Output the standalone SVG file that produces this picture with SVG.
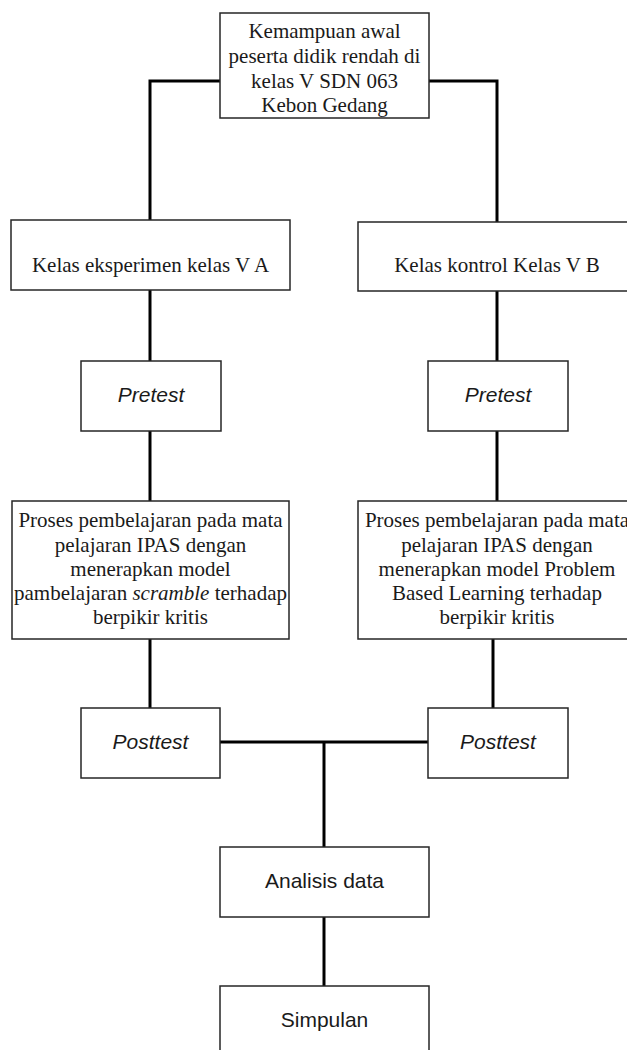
<svg xmlns="http://www.w3.org/2000/svg" width="627" height="1050" viewBox="0 0 627 1050">
<style>
.box{fill:#fff;stroke:#262626;stroke-width:1.5}
.con{fill:none;stroke:#000;stroke-width:3}
.serif{font-family:"Liberation Serif","Times New Roman",serif;font-size:21px;fill:#1a1a1a;text-anchor:middle}
.sans{font-family:"Liberation Sans",Arial,sans-serif;font-size:21px;fill:#1a1a1a;text-anchor:middle}
.it{font-style:italic}
</style>
<rect width="627" height="1050" fill="#fff"/>
<g id="connectors">
<path class="con" d="M220,81 H150 V220"/>
<path class="con" d="M429,81 H497 V222"/>
<path class="con" d="M150,290 V361"/>
<path class="con" d="M150,431 V501"/>
<path class="con" d="M150,639 V708"/>
<path class="con" d="M497,291 V361"/>
<path class="con" d="M497,431 V501"/>
<path class="con" d="M493,639 V708"/>
<path class="con" d="M220,742 H428"/>
<path class="con" d="M324,742 V847"/>
<path class="con" d="M324,917 V986"/>
</g>
<g id="node-awal">
<rect class="box" x="220" y="13" width="209" height="105"/>
<text class="serif" x="324.5" y="38">Kemampuan awal</text>
<text class="serif" x="324.5" y="63">peserta didik rendah di</text>
<text class="serif" x="324.5" y="88">kelas V SDN 063</text>
<text class="serif" x="324.5" y="112">Kebon Gedang</text>
</g>
<g id="node-eksperimen">
<rect class="box" x="11" y="220" width="279" height="70"/>
<text class="serif" x="150.5" y="272">Kelas eksperimen kelas V A</text>
</g>
<g id="node-kontrol">
<rect class="box" x="358" y="222" width="278" height="69"/>
<text class="serif" x="497" y="272">Kelas kontrol Kelas V B</text>
</g>
<g id="node-pretest-a">
<rect class="box" x="81" y="361" width="140" height="70"/>
<text class="sans it" x="151" y="402">Pretest</text>
</g>
<g id="node-pretest-b">
<rect class="box" x="428" y="361" width="140" height="70"/>
<text class="sans it" x="498" y="402">Pretest</text>
</g>
<g id="node-proses-a">
<rect class="box" x="12" y="501" width="277" height="138"/>
<text class="serif" x="150.5" y="527">Proses pembelajaran pada mata</text>
<text class="serif" x="150.5" y="551.5">pelajaran IPAS dengan</text>
<text class="serif" x="150.5" y="576">menerapkan model</text>
<text class="serif" x="150.5" y="600">pambelajaran <tspan class="it">scramble</tspan> terhadap</text>
<text class="serif" x="150.5" y="624">berpikir kritis</text>
</g>
<g id="node-proses-b">
<rect class="box" x="358" y="501" width="278" height="138"/>
<text class="serif" x="497" y="527">Proses pembelajaran pada mata</text>
<text class="serif" x="497" y="551.5">pelajaran IPAS dengan</text>
<text class="serif" x="497" y="576">menerapkan model Problem</text>
<text class="serif" x="497" y="600">Based Learning terhadap</text>
<text class="serif" x="497" y="624">berpikir kritis</text>
</g>
<g id="node-posttest-a">
<rect class="box" x="81" y="708" width="139" height="70"/>
<text class="sans it" x="150.5" y="749">Posttest</text>
</g>
<g id="node-posttest-b">
<rect class="box" x="428" y="708" width="140" height="70"/>
<text class="sans it" x="498" y="749">Posttest</text>
</g>
<g id="node-analisis">
<rect class="box" x="220" y="847" width="209" height="70"/>
<text class="sans" x="324.5" y="888">Analisis data</text>
</g>
<g id="node-simpulan">
<rect class="box" x="220" y="986" width="209" height="70"/>
<text class="sans" x="324.5" y="1027">Simpulan</text>
</g>
</svg>
